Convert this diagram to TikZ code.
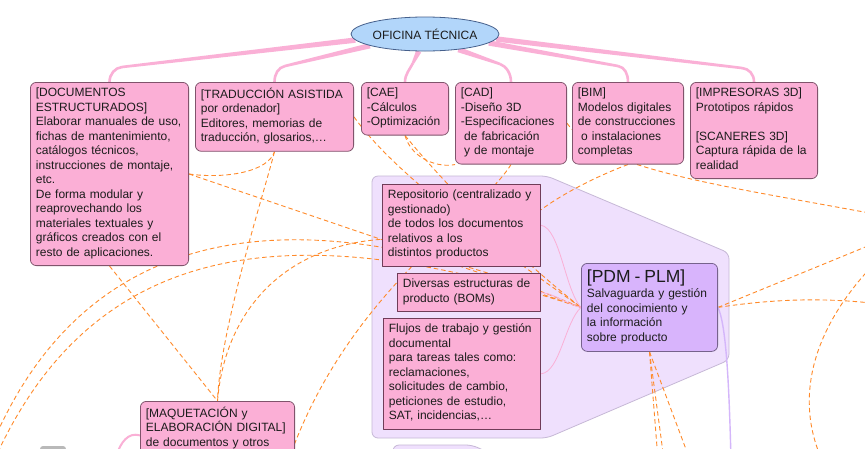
\documentclass[tikz,border=0pt]{standalone}
\usepackage{fontspec}
\setmainfont{Liberation Sans}
\usetikzlibrary{shapes.geometric,calc}

\definecolor{topicfill}{RGB}{251,175,214}
\definecolor{topicline}{RGB}{128,84,108}
\definecolor{subline}{RGB}{112,60,88}
\definecolor{rootfill}{RGB}{178,214,250}
\definecolor{rootline}{RGB}{70,96,140}
\definecolor{pdmfill}{RGB}{216,180,252}
\definecolor{pdmline}{RGB}{118,98,140}
\definecolor{groupfill}{RGB}{239,224,253}
\definecolor{groupline}{RGB}{198,184,214}
\definecolor{linkorange}{RGB}{255,138,42}
\definecolor{branchpink}{RGB}{250,176,214}
\definecolor{lilac}{RGB}{212,182,250}
\definecolor{txt}{RGB}{28,28,28}

\pgfdeclarelayer{groups}
\pgfdeclarelayer{links}
\pgfsetlayers{groups,links,main}

% tapered branch: root anchor, bend point, target anchor
\newcommand{\branch}[3]{%
 \fill[branchpink] ($(#1)!2.7pt!90:(#2)$) -- ($(#2)!1.3pt!-90:(#1)$)
 -- ($(#2)!1.3pt!90:(#1)$) -- ($(#1)!2.7pt!-90:(#2)$) -- cycle;
 \draw[branch] (#2) .. controls ($(#2)!-7pt!(#1)$) and ($(#3)+(0,-8)$) .. (#3);}

\tikzset{
 topic/.style={draw=topicline, fill=topicfill, line width=0.8pt, rounded corners=6pt,
 anchor=north west, align=left, inner xsep=5.5pt, inner ysep=5.5pt, text=txt,
 execute at end node={\rule[-4pt]{0pt}{4pt}}},
 subtopic/.style={topic, draw=subline, rounded corners=0pt},
 pdmbox/.style={topic, draw=pdmline, fill=pdmfill},
 central/.style={ellipse, draw=rootline, fill=rootfill, line width=0.8pt, inner sep=0pt,
 minimum width=132pt, minimum height=34pt, text=txt},
 groupbox/.style={fill=groupfill, draw=groupline, line width=0.8pt, rounded corners=6pt},
 branch/.style={draw=branchpink, line width=2.6pt},
 link/.style={draw=linkorange, line width=0.9pt, dash pattern=on 4.5pt off 3pt},
 softlink/.style={draw=branchpink, line width=0.8pt},
 lilaclink/.style={draw=lilac, line width=1.4pt}
}

\begin{document}
\begin{tikzpicture}[x=1pt, y=-1pt, line join=round, font=\fontsize{12}{14.5}\selectfont]
 \useasboundingbox (0,0) rectangle (865,448);

 \node[central] (oficina) at (425,34) {OFICINA TÉCNICA};

 \node[topic, text width=147.2pt] (doc) at (30,82) {[DOCUMENTOS\\ESTRUCTURADOS]\\Elaborar manuales de uso,\\fichas de mantenimiento,\\catálogos técnicos,\\instrucciones de montaje,\\etc.\\De forma modular y\\reaprovechando los\\materiales textuales y\\gráficos creados con el\\resto de aplicaciones.};
 \node[topic, text width=147.2pt] (trad) at (195,82) {[TRADUCCIÓN ASISTIDA\\por ordenador]\\Editores, memorias de\\traducción, glosarios,…};
 \node[topic, text width=76.2pt] (cae) at (361,82) {[CAE]\\-Cálculos\\-Optimización};
 \node[topic, text width=100.2pt] (cad) at (455,82) {[CAD]\\-Diseño 3D\\-Especificaciones\\\hspace*{3.3pt}de fabricación\\\hspace*{3.3pt}y de montaje};
 \node[topic, text width=100.2pt] (bim) at (572,82) {[BIM]\\Modelos digitales\\de construcciones\\\hspace*{3.3pt}o instalaciones\\completas};
 \node[topic, text width=116.2pt] (imp) at (690,82) {[IMPRESORAS 3D]\\Prototipos rápidos\\[14.5pt][SCANERES 3D]\\Captura rápida de la\\realidad};

 \node[subtopic, text width=147.2pt] (repo) at (382,184) {Repositorio (centralizado y\\gestionado)\\de todos los documentos\\relativos a los\\distintos productos};
 \node[subtopic, text width=132.2pt] (bom) at (397,273) {Diversas estructuras de\\producto (BOMs)};
 \node[subtopic, text width=146.2pt] (flujo) at (383,318) {Flujos de trabajo y gestión\\documental\\para tareas tales como:\\reclamaciones,\\solicitudes de cambio,\\peticiones de estudio,\\SAT, incidencias,…};
 \node[pdmbox, text width=125.2pt, minimum height=88pt, execute at end node={}] (pdm) at (581,263) {{\fontsize{17.5}{20}\selectfont [PDM - PLM]}\\[1pt]Salvaguarda y gestión\\del conocimiento y\\la información\\sobre producto};

 \node[topic, text width=143.2pt] (maq) at (140,401) {[MAQUETACIÓN y\\ELABORACIÓN DIGITAL]\\de documentos y otros};

 \begin{pgfonlayer}{groups}
 \fill[white] (0,0) rectangle (865,448);
 \path[groupbox] (372,176) -- (547,176) -- (729,253) -- (729,360) -- (547,438) -- (372,438) -- cycle;
 \path[groupbox] (393,490) -- (393,445) -- (472,445) -- (505,460) -- (505,490);
 \path[fill=gray!55, rounded corners=3pt] (40,446) rectangle (66,470);
 \end{pgfonlayer}

 \begin{pgfonlayer}{links}
 % branches from the root
 \branch{oficina.185}{122,67}{doc.north}
 \branch{oficina.192}{285,66}{trad.north}
 \branch{oficina.250}{413,63}{cae.north}
 \branch{oficina.335}{500,64}{cad.north}
 \branch{oficina.352}{618,66}{bim.north}
 \branch{oficina.356}{742,68}{imp.north}

 % free ends outside the frame
 \coordinate (offA) at (-6,440);
 \coordinate (offB) at (-2,452);
 \coordinate (offC) at (290,456);
 \coordinate (offR1) at (880,215);
 \coordinate (offR2) at (880,241);
 \coordinate (offR3) at (880,304);
 \coordinate (offR4) at (876,262);
 \coordinate (offR5) at (822,460);
 \coordinate (offD1) at (658,460);
 \coordinate (offD2) at (664,460);
 \coordinate (offD3) at (690,460);
 \coordinate (offP) at (731,460);
 \coordinate (offM) at (116,456);

 \draw[link] (doc.east) .. controls (225,179) and (268,172) .. (trad.south);
 \draw[link] (trad.south) .. controls (262,200) and (220,330) .. (maq.north);
 \draw[link] (doc.south) -- (maq.north);
 \draw[link] (maq.north) .. controls (225,310) and (285,246) .. (repo.190);
 \draw[link] (doc.east) -- (pdm.west);
 \draw[link] (offA) .. controls (90,220) and (300,190) .. (pdm.west);
 \draw[link] (offB) .. controls (100,235) and (300,215) .. (pdm.west);
 \draw[link] (trad.east) .. controls (395,175) and (500,250) .. (pdm.west);
 \draw[link] (cae.south) .. controls (445,185) and (520,260) .. (pdm.west);
 \draw[link] (cae.south) .. controls (412,160) and (440,168) .. (cad.south west);
 \draw[link] (cad.south) .. controls (480,215) and (350,290) .. (offC);
 \draw[link] (cad.east) .. controls (600,170) and (720,185) .. (offR1);
 \draw[link] (bim.south) .. controls (600,175) and (565,192) .. (repo.11);
 \draw[link] (pdm.east) -- (offR2);
 \draw[link] (pdm.east) .. controls (780,298) and (830,298) .. (offR3);
 \draw[link] (offR4) .. controls (810,330) and (795,400) .. (offR5);
 \draw[link] (pdm.south) -- (offD1);
 \draw[link] (pdm.south) -- (offD2);
 \draw[link] (pdm.south) -- (offD3);

 \draw[softlink] (repo.east) .. controls (560,228) and (565,290) .. (pdm.west);
 \draw[softlink] (bom.east) .. controls (556,294) and (566,304) .. (pdm.west);
 \draw[softlink] (flujo.east) .. controls (560,372) and (565,322) .. (pdm.west);
 \draw[lilaclink] (pdm.east) .. controls (726,325) and (729,380) .. (offP);
 \draw[branch, line width=2pt] (maq.185) .. controls (128,432) and (121,442) .. (offM);
 \end{pgfonlayer}
\end{tikzpicture}
\end{document}
